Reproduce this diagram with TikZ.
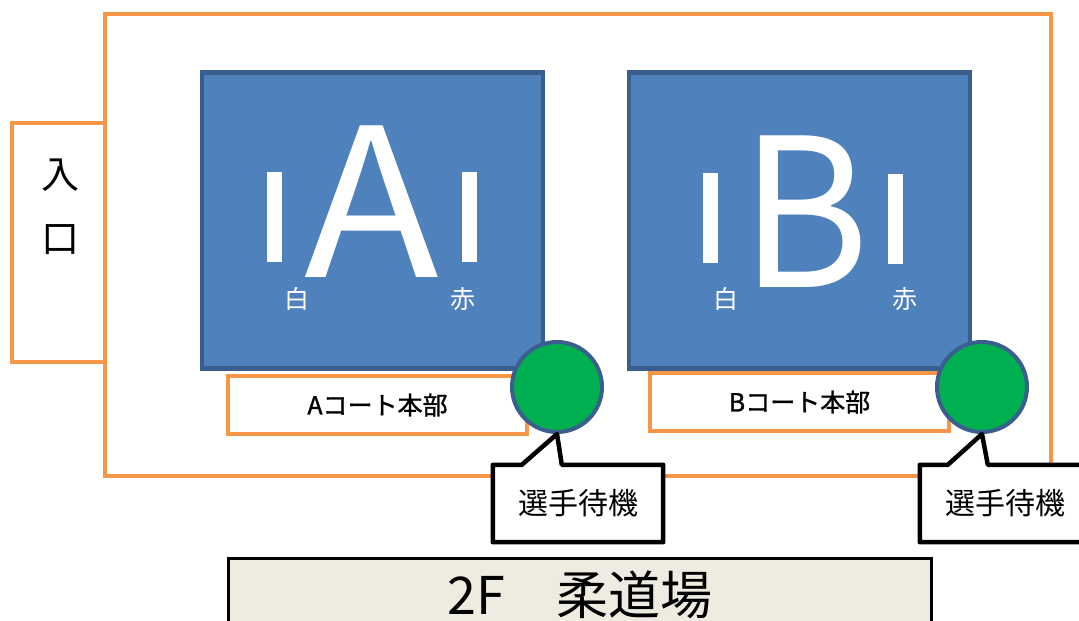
\documentclass[tikz,border=0pt]{standalone}
\usepackage{fontspec}
\setmainfont{Noto Sans CJK JP}
\newfontfamily\deskfont{Noto Sans CJK JP}[FakeBold=1.2]
\usetikzlibrary{positioning}
\definecolor{hallorange}{HTML}{F79646}
\definecolor{matblue}{HTML}{4F81BD}
\definecolor{matedge}{HTML}{3A5F8F}
\definecolor{chairgreen}{HTML}{00B050}
\definecolor{titlebeige}{HTML}{EEECE1}
\tikzset{
  wall/.style={draw=hallorange, line width=4pt, fill=white, inner sep=0pt},
  court/.style={draw=matedge, fill=matblue, line width=4.5pt, inner sep=0pt,
    minimum width=341pt, minimum height=296pt},
  courtletter/.style={text=white, inner sep=0pt, text height=152pt, text depth=0pt,
    font=\fontsize{207}{207}\selectfont},
  startline/.style={fill=white, inner sep=0pt, minimum width=15pt, minimum height=90pt},
  sidename/.style={text=white, inner sep=0pt, font=\fontsize{25}{25}\selectfont},
  desk/.style={wall, minimum width=299pt, minimum height=58pt,
    font=\deskfont\fontsize{25}{25}\selectfont},
  chair/.style={circle, draw=matedge, fill=chairgreen, line width=4pt,
    minimum size=90pt, inner sep=0pt},
  callbox/.style={fill=white, inner sep=0pt, minimum width=170pt, minimum height=77pt,
    font=\fontsize{30}{30}\selectfont},
  callline/.style={draw=black, line width=4.5pt, line join=round}
}
\begin{document}
\begin{tikzpicture}[x=1pt, y=-1pt]
\useasboundingbox (0,0) rectangle (1079,621);
% hall and entrance
\node[wall, minimum width=946pt, minimum height=462pt] (hall) at (578,245) {};
\node[wall, minimum width=93pt, minimum height=239pt] (entrance) at (58.5,242.5) {};
\node[inner sep=0pt, align=center, font=\fontsize{38}{64}\selectfont] (entranceText) at (60,207) {入\\口};
% court A
\node[court] (courtA) at (372.5,220.5) {};
\node[courtletter, xscale=1.07] (letterA) at (372,201) {A};
\node[startline] (whiteLineA) at (274.5,217) {};
\node[startline] (redLineA) at (469.5,217) {};
\node[sidename] (whiteA) at (297,299) {白};
\node[sidename] (redA) at (463,299) {赤};
% court B
\node[court] (courtB) at (799.5,220.5) {};
\node[courtletter, xscale=0.95] (letterB) at (805,211) {B};
\node[startline] (whiteLineB) at (710.5,218) {};
\node[startline] (redLineB) at (895.5,219) {};
\node[sidename] (whiteB) at (726,299) {白};
\node[sidename] (redB) at (905,299) {赤};
% desks
\node[desk] (deskA) at (377.5,405) {Aコート本部};
\node[desk] (deskB) at (799.5,402) {Bコート本部};
% waiting seats
\node[chair] (chairA) at (557,387) {};
\node[chair] (chairB) at (982,387) {};
\node[callbox] (waitA) at (578,503.5) {選手待機};
\node[callbox] (waitB) at (1005,503.5) {選手待機};
\draw[callline] (waitA.north west) -- ++(29,0) -- (chairA.south) -- ([xshift=69pt]waitA.north west)
  -- (waitA.north east) -- (waitA.south east) -- (waitA.south west) -- cycle;
\draw[callline] (waitB.north west) -- ++(28,0) -- (chairB.south) -- ([xshift=68pt]waitB.north west)
  -- (waitB.north east) -- (waitB.south east) -- (waitB.south west) -- cycle;
% title
\node[draw=black, fill=titlebeige, line width=3pt, minimum width=703pt, minimum height=84pt] (title) at (580,600) {};
\node[inner sep=0pt, font=\fontsize{52}{52}\selectfont, yshift=5pt] (titleText) at (title.center) {2F　柔道場};
\end{tikzpicture}
\end{document}
